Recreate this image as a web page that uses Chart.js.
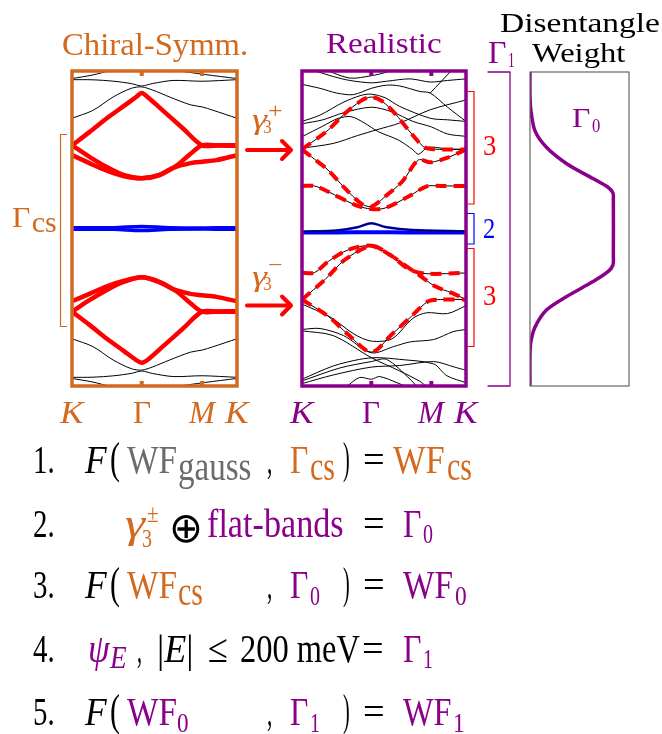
<!DOCTYPE html>
<html>
<head>
<meta charset="utf-8">
<script src="https://cdn.jsdelivr.net/npm/chart.js@4/dist/chart.umd.min.js"></script>
<style>
html, body { margin: 0; padding: 0; background: #fff; }
body { position: relative; width: 662px; height: 734px; overflow: hidden; font-family: "Liberation Serif", serif; }
canvas { position: absolute; }
svg { position: absolute; left: 0; top: 0; }
.lbl { position: absolute; left: 0; top: 0; white-space: nowrap; line-height: 1; transform-origin: 0 0; }
.bl { display: inline-block; width: 0; height: 0; }
.op { font-family: "DejaVu Sans", sans-serif; }
</style>
</head>
<body>
<canvas id="cs"></canvas>
<canvas id="re"></canvas>
<canvas id="wt"></canvas>
<svg id="deco" width="662" height="734"></svg>
<script>
/* ------------------------------- Data ------------------------------- */
// k-path K - Gamma - M - K, energies scaled to [-1, 1]
const kTicks = [0, 1, 1.866, 2.366];
const kLabels = ['K', 'Γ', 'M', 'K'];
const kItalic = [true, false, true, true];

// chiral-symmetric model
const csRedUpA = [[0,0.528],[0.25,0.612],[0.5,0.70],[0.75,0.78],[0.92,0.835],[1,0.86],[1.1,0.828],[1.3,0.75],[1.6,0.632],[1.866,0.528],[2.1,0.529],[2.366,0.528]];
const csRedUpB = [[0,0.528],[0.25,0.455],[0.5,0.39],[0.75,0.338],[1,0.319],[1.25,0.338],[1.5,0.40],[1.7,0.475],[1.866,0.528],[2.1,0.527],[2.366,0.525]];
const csRedUpC = [[0,0.466],[0.25,0.415],[0.5,0.367],[0.75,0.332],[1,0.319],[1.25,0.34],[1.45,0.385],[1.7,0.415],[1.866,0.424],[2.07,0.434],[2.366,0.466]];
const csRedDnA = [[0,-0.528],[0.25,-0.612],[0.5,-0.70],[0.75,-0.78],[0.92,-0.835],[1,-0.852],[1.1,-0.828],[1.3,-0.75],[1.6,-0.632],[1.866,-0.528],[2.1,-0.529],[2.366,-0.528]];
const csRedDnB = [[0,-0.528],[0.25,-0.455],[0.5,-0.39],[0.75,-0.338],[1,-0.31],[1.25,-0.338],[1.5,-0.40],[1.7,-0.475],[1.866,-0.528],[2.1,-0.527],[2.366,-0.525]];
const csRedDnC = [[0,-0.462],[0.25,-0.415],[0.5,-0.367],[0.75,-0.332],[1,-0.31],[1.25,-0.34],[1.45,-0.385],[1.7,-0.415],[1.866,-0.424],[2.07,-0.434],[2.366,-0.462]];
const csBlue1 = [[0,0.004],[0.6,0.005],[1,0.013],[1.4,0.005],[2.366,0.004]];
const csBlue2 = [[0,-0.004],[0.6,-0.005],[1,-0.013],[1.4,-0.005],[2.366,-0.004]];
const csBlkUp1 = [[0,0.70],[0.3,0.75],[0.59,0.835],[0.85,0.89],[1,0.899],[1.15,0.88],[1.4,0.835],[1.7,0.785],[1.866,0.772],[2.02,0.751],[2.366,0.70]];
const csBlkUp2 = [[0,0.945],[0.3,0.944],[0.6,0.935],[0.85,0.92],[1,0.905],[1.15,0.92],[1.45,0.94],[1.866,0.935],[2.366,0.945]];
const csBlkUp3 = [[0,0.952],[0.3,0.975],[0.56,1.005]];
const csBlkUp4 = [[1.47,1.005],[1.9,0.978],[2.366,0.952]];
const csBlkDn1 = [[0,-0.70],[0.3,-0.75],[0.59,-0.835],[0.85,-0.89],[1,-0.899],[1.15,-0.88],[1.4,-0.835],[1.7,-0.785],[1.866,-0.772],[2.02,-0.751],[2.366,-0.70]];
const csBlkDn2 = [[0,-0.945],[0.3,-0.944],[0.6,-0.935],[0.85,-0.92],[1,-0.905],[1.15,-0.92],[1.45,-0.94],[1.866,-0.935],[2.366,-0.945]];
const csBlkDn3 = [[0,-0.952],[0.3,-0.975],[0.56,-1.005]];
const csBlkDn4 = [[1.47,-1.005],[1.9,-0.978],[2.366,-0.952]];

// realistic model: projected (dashed) bands
const reRedA = [[0,0.502],[0.377,0.625],[0.618,0.73],[0.85,0.81],[1,0.835],[1.15,0.81],[1.343,0.73],[1.536,0.625],[1.75,0.52],[1.866,0.505],[2.1,0.502],[2.366,0.502]];
const reRedB = [[0,0.502],[0.18,0.44],[0.377,0.371],[0.618,0.256],[0.85,0.16],[1,0.139],[1.2,0.203],[1.45,0.30],[1.68,0.435],[1.85,0.42],[2.1,0.45],[2.366,0.502]];
const reRedC = [[0,0.27],[0.18,0.27],[0.377,0.234],[0.763,0.15],[1,0.123],[1.2,0.13],[1.536,0.203],[1.8,0.268],[2.0,0.27],[2.366,0.27]];
const reRedD = [[0,-0.282],[0.18,-0.28],[0.38,-0.209],[0.67,-0.135],[1,-0.11],[1.3,-0.177],[1.55,-0.261],[1.8,-0.287],[2.366,-0.282]];
const reRedE = [[0,-0.451],[0.33,-0.325],[0.62,-0.198],[1,-0.11],[1.245,-0.16],[1.44,-0.219],[1.68,-0.293],[1.92,-0.367],[2.16,-0.409],[2.366,-0.451]];
const reRedF = [[0,-0.451],[0.377,-0.557],[0.667,-0.673],[1,-0.785],[1.294,-0.673],[1.58,-0.557],[1.82,-0.462],[2.0,-0.451],[2.366,-0.451]];
const reBlue1 = [[0,-0.025],[0.5,-0.025],[1,-0.024],[1.5,-0.025],[2.366,-0.025]];
const reBlue2 = [[0,-0.02],[0.5,-0.012],[0.8,0.008],[1,0.034],[1.2,0.01],[1.6,-0.01],[2.366,-0.018]];
// realistic model: remaining bands
const reBlk1 = [[0,0.583],[0.3,0.65],[0.52,0.699],[0.71,0.71],[0.9,0.67],[1.1,0.615],[1.39,0.562],[1.6,0.50],[1.68,0.471],[1.82,0.516],[2.1,0.505],[2.366,0.503]];
const reBlk2 = [[0,0.51],[0.45,0.54],[0.8,0.59],[1.08,0.627],[1.41,0.67],[1.85,0.754],[2.366,0.816]];
const reBlk3 = [[0,0.68],[0.26,0.72],[0.59,0.80],[0.85,0.845],[1,0.853],[1.2,0.83],[1.41,0.775],[1.85,0.70],[2.1,0.69],[2.366,0.68]];
const reBlk4 = [[0,0.665],[0.3,0.69],[0.6,0.735],[1,0.77],[1.3,0.74],[1.6,0.68],[1.866,0.645],[2.1,0.60],[2.366,0.585]];
const reBlk5 = [[0,0.915],[0.26,0.89],[0.5,0.86],[0.74,0.85],[1,0.89],[1.22,0.91],[1.41,0.905],[1.7,0.87],[1.85,0.86],[2.1,0.77],[2.366,0.68]];
const reBlk6 = [[0.16,1.005],[0.45,0.965],[0.69,0.94],[1,0.925],[1.22,0.935],[1.56,0.95],[1.85,0.93],[2.1,0.94],[2.366,0.95]];
const reBlk7 = [[1.85,0.86],[2.0,0.93],[2.16,1.005]];
const reBlk8 = [[0.35,1.005],[0.69,0.955],[1,0.97],[1.2,0.99],[1.3,1.005]];
const reBlk9 = [[0,-0.48],[0.4,-0.56],[0.75,-0.67],[1,-0.715],[1.3,-0.70],[1.6,-0.57],[1.8,-0.535],[2.1,-0.54],[2.366,-0.49]];
const reBlk10 = [[0,-0.641],[0.26,-0.635],[0.6,-0.68],[1,-0.789],[1.32,-0.75],[1.56,-0.72],[1.9,-0.705],[2.18,-0.655],[2.366,-0.641]];
const reBlk11 = [[0,-0.65],[0.45,-0.68],[1,-0.82],[1.41,-0.905],[1.7,-0.97],[1.8,-1.005]];
const reBlk12 = [[0,-0.957],[0.45,-0.873],[0.83,-0.831],[1.08,-0.82],[1.41,-0.831],[1.9,-0.86],[2.09,-0.935],[2.366,-0.979]];
const reBlk13 = [[0,-0.968],[0.55,-0.885],[1,-0.845],[1.22,-0.831],[1.56,-0.957],[1.66,-1.005]];
const reBlk14 = [[0,-0.985],[0.45,-0.93],[1,-0.88],[1.41,-0.87],[1.9,-0.845],[2.2,-0.88],[2.366,-0.9]];
const reBlk15 = [[0.64,-1.005],[0.83,-0.946],[1,-0.957],[1.12,-0.94],[1.37,-0.979],[1.51,-1.005]];

// disentangle weight (x: weight 0..1, y: energy)
const wtCurve = [[0,1.01],[0,0.85],[0.01,0.76],[0.06,0.625],[0.2,0.519],[0.44,0.416],[0.756,0.321],[0.936,0.266],[0.995,0.23],[1,0.19],[1,-0.17],[0.995,-0.23],[0.936,-0.272],[0.756,-0.335],[0.44,-0.43],[0.2,-0.515],[0.06,-0.625],[0.01,-0.72],[0,-0.8],[0,-1.01]];

/* ------------------------------ Helpers ----------------------------- */
const ORANGE = '#d2691e';
const PURPLE = '#8b008b';
const RED = '#ff0000';
const BLUE = '#0000ff';

const pts = arr => arr.map(([x, y]) => ({ x, y }));

const solid = (arr, color, width, order) => ({
    data: pts(arr), borderColor: color, borderWidth: width, order,
    tension: 0.3, borderCapStyle: 'round', borderJoinStyle: 'round', fill: false
});
const dashed = (arr, color, width, order) => ({
    ...solid(arr, color, width, order), borderDash: [11, 7], borderCapStyle: 'butt'
});

const framePlugin = (color, lw, ticks) => ({
    id: 'frame',
    afterDatasetsDraw(chart) {
        const { ctx, chartArea: a, scales: { x } } = chart;
        ctx.save();
        ctx.strokeStyle = color;
        ctx.lineWidth = lw;
        ctx.strokeRect(a.left, a.top, a.right - a.left, a.bottom - a.top);
        ctx.fillStyle = color;
        ticks.forEach(v => {
            const px = x.getPixelForValue(v);
            ctx.fillRect(px - 2, a.top, 4, 5);
            ctx.fillRect(px - 2, a.bottom - 5, 4, 5);
        });
        ctx.restore();
    }
});

const makePanel = (id, frame, xMax, datasets, color, lw, ticks) => {
    const pad = 6;
    const cv = document.getElementById(id);
    cv.width = frame.w + 2 * pad;
    cv.height = frame.h + 2 * pad;
    cv.style.left = (frame.x - pad) + 'px';
    cv.style.top = (frame.y - pad) + 'px';
    const chart = new Chart(cv, {
        type: 'line',
        data: { datasets },
        options: {
            responsive: false, animation: false, devicePixelRatio: 1,
            layout: { padding: pad },
            plugins: { legend: { display: false }, tooltip: { enabled: false } },
            elements: { point: { radius: 0 } },
            scales: {
                x: { type: 'linear', min: 0, max: xMax, display: false },
                y: { type: 'linear', min: -1, max: 1, display: false }
            }
        },
        plugins: [framePlugin(color, lw, ticks)]
    });
    chart.left0 = frame.x - pad;
    return chart;
};

const label = (html, color, x0, x1, base, size, italic, cls) => {
    const el = document.createElement('div');
    el.className = 'lbl' + (cls ? ' ' + cls : '');
    el.style.fontSize = size + 'px';
    el.style.color = color;
    if (italic) el.style.fontStyle = 'italic';
    el.innerHTML = html + '<span class="bl"></span>';
    document.body.appendChild(el);
    const r = el.getBoundingClientRect();
    const b = el.querySelector('.bl').getBoundingClientRect().top - r.top;
    el.style.top = (base - b) + 'px';
    el.style.left = x0 + 'px';
    if (x1 != null) el.style.transform = 'scaleX(' + ((x1 - x0) / r.width).toFixed(3) + ')';
    return el;
};

/* ------------------------------ Charts ------------------------------ */
const csChart = makePanel('cs', { x: 72, y: 71, w: 165, h: 315 }, 2.366, [
    solid(csRedUpA, RED, 4.5, 0), solid(csRedUpB, RED, 4.5, 0), solid(csRedUpC, RED, 4.5, 0),
    solid(csRedDnA, RED, 4.5, 0), solid(csRedDnB, RED, 4.5, 0), solid(csRedDnC, RED, 4.5, 0),
    solid(csBlue1, BLUE, 3.5, 1), solid(csBlue2, BLUE, 3.5, 1),
    solid(csBlkUp1, '#000', 1, 2), solid(csBlkUp2, '#000', 1, 2), solid(csBlkUp3, '#000', 1, 2), solid(csBlkUp4, '#000', 1, 2),
    solid(csBlkDn1, '#000', 1, 2), solid(csBlkDn2, '#000', 1, 2), solid(csBlkDn3, '#000', 1, 2), solid(csBlkDn4, '#000', 1, 2)
], ORANGE, 3.5, [kTicks[1], kTicks[2]]);

const reBlack = [reRedA, reRedB, reRedC, reRedD, reRedE, reRedF, reBlue2,
    reBlk1, reBlk2, reBlk3, reBlk4, reBlk5, reBlk6, reBlk7, reBlk8,
    reBlk9, reBlk10, reBlk11, reBlk12, reBlk13, reBlk14, reBlk15];
const reChart = makePanel('re', { x: 302, y: 71, w: 164, h: 315 }, 2.366, [
    dashed(reRedA, RED, 4, 0), dashed(reRedB, RED, 4, 0), dashed(reRedC, RED, 4, 0),
    dashed(reRedD, RED, 4, 0), dashed(reRedE, RED, 4, 0), dashed(reRedF, RED, 4, 0),
    ...reBlack.map(b => solid(b, '#000', 1, 1)),
    solid(reBlue1, BLUE, 4, 2), solid(reBlue2, BLUE, 2.5, 2)
], PURPLE, 3.5, [kTicks[1], kTicks[2]]);

const wtChart = makePanel('wt', { x: 530, y: 72, w: 99, h: 314 }, 1.188, [
    solid(wtCurve, PURPLE, 3.5, 0)
], '#666', 1.2, []);

/* ------------------------------ Labels ------------------------------ */
[[csChart, ORANGE], [reChart, PURPLE]].forEach(([ch, col]) => {
    const widths = [23.5, 18, 26, 23.5];
    kTicks.forEach((v, i) => {
        const cx = ch.left0 + ch.scales.x.getPixelForValue(v);
        label(kLabels[i], col, cx - widths[i] / 2, cx + widths[i] / 2, 423.3, 32, kItalic[i]);
    });
});

label('Chiral-Symm.', ORANGE, 61.7, 248, 55, 32);
label('Realistic', PURPLE, 326, 441.7, 53.3, 30);
label('Disentangle', '#000', 500, 660, 31.7, 28);
label('Weight', '#000', 531.7, 625, 61.7, 28);
label('Γ', PURPLE, 488.3, 506.7, 63.3, 32);
label('1', PURPLE, 508.3, 515, 66.7, 20);
label('Γ', PURPLE, 571.7, 590, 126.7, 28);
label('0', PURPLE, 591.7, 600, 131.7, 19);
label('Γ', ORANGE, 11.7, 30, 226.7, 30);
label('cs', ORANGE, 31.7, 56.7, 231.7, 30);
label('γ', ORANGE, 251.7, 266.7, 129, 30, true);
label('3', ORANGE, 263.3, 272, 133.3, 18);
label('+', ORANGE, 268.3, 283, 118, 22);
label('γ', ORANGE, 251.7, 266.7, 285.5, 30, true);
label('3', ORANGE, 263.3, 272, 290, 18);
label('−', ORANGE, 268.3, 283, 272, 22);
label('3', RED, 482.7, 496, 155, 29);
label('2', BLUE, 482.7, 495, 238.3, 29);
label('3', RED, 482.7, 496, 305, 29);

// equations: [line, text, color, x0, x1, dy, size, italic, class]
const GRAY = '#6b6b6b', BLK = '#000';
const eqBase = [473.3, 536.7, 598.3, 661.7, 725];
const eqPieces = [
    [0, '1.', BLK, 33.3, 55, 0, 40], [0, 'F', BLK, 85, 106.7, 0, 40, true], [0, '(', BLK, 110, 120, 0, 44],
    [0, 'WF', GRAY, 126.7, 176.7, 0, 40], [0, 'gauss', GRAY, 178.3, 251.7, 6.7, 40],
    [0, ',', BLK, 266.7, 272, 0, 40], [0, 'Γ', ORANGE, 290, 308.3, 0, 40], [0, 'cs', ORANGE, 310, 335, 6.7, 40],
    [0, ')', BLK, 343.3, 350, 0, 44], [0, '=', BLK, 363.3, 385, 0, 40],
    [0, 'WF', ORANGE, 393.3, 445, 0, 40], [0, 'cs', ORANGE, 446.7, 471.7, 6.7, 40],

    [1, '2.', BLK, 33.3, 55, 0, 40], [1, 'γ', ORANGE, 125, 145, 0, 40, true],
    [1, '±', ORANGE, 146.7, 158.3, -15, 26], [1, '3', ORANGE, 141.7, 151.7, 10, 26],
    [1, '⊕', BLK, 169, 203, 5, 42, false, 'op'], [1, 'flat-bands', PURPLE, 206.7, 343.3, 0, 40],
    [1, '=', BLK, 363.3, 385, 0, 40], [1, 'Γ', PURPLE, 403.3, 421.7, 0, 40], [1, '0', PURPLE, 423.3, 433.3, 6.7, 27],

    [2, '3.', BLK, 33.3, 55, 0, 40], [2, 'F', BLK, 85, 106.7, 0, 40, true], [2, '(', BLK, 110, 120, 0, 44],
    [2, 'WF', ORANGE, 126.7, 176.7, 0, 40], [2, 'cs', ORANGE, 178.3, 203.3, 6.7, 40],
    [2, ',', BLK, 266.7, 272, 0, 40], [2, 'Γ', PURPLE, 290, 308.3, 0, 40], [2, '0', PURPLE, 310, 320, 6.7, 27],
    [2, ')', BLK, 343.3, 350, 0, 44], [2, '=', BLK, 363.3, 385, 0, 40],
    [2, 'WF', PURPLE, 403.3, 453.3, 0, 40], [2, '0', PURPLE, 455, 466.7, 6.7, 27],

    [3, '4.', BLK, 33.3, 55, 0, 40], [3, 'ψ', PURPLE, 88.3, 110, 0, 40, true], [3, 'E', PURPLE, 110, 126.7, 6.7, 32, true],
    [3, ',', BLK, 136.7, 141.7, 0, 40], [3, '|<i>E</i>|', BLK, 156.7, 193.3, 0, 40],
    [3, '≤', BLK, 208.3, 228.3, 0, 40], [3, '200 meV', BLK, 240, 360, 0, 40],
    [3, '=', BLK, 361.7, 383.3, 0, 40], [3, 'Γ', PURPLE, 403.3, 421.7, 0, 40], [3, '1', PURPLE, 423.3, 433.3, 6.7, 27],

    [4, '5.', BLK, 33.3, 55, 0, 40], [4, 'F', BLK, 85, 106.7, 0, 40, true], [4, '(', BLK, 110, 120, 0, 44],
    [4, 'WF', PURPLE, 126.7, 176.7, 0, 40], [4, '0', PURPLE, 176.7, 188.3, 6.7, 27],
    [4, ',', BLK, 266.7, 272, 0, 40], [4, 'Γ', PURPLE, 290, 308.3, 0, 40], [4, '1', PURPLE, 310, 320, 6.7, 27],
    [4, ')', BLK, 343.3, 350, 0, 44], [4, '=', BLK, 363.3, 385, 0, 40],
    [4, 'WF', PURPLE, 403.3, 451.7, 0, 40], [4, '1', PURPLE, 453.3, 465, 6.7, 27]
];
eqPieces.forEach(([ln, t, c, x0, x1, dy, s, it, cls]) => label(t, c, x0, x1, eqBase[ln] + dy, s, it, cls));

/* ---------------------------- Decorations --------------------------- */
const svg = document.getElementById('deco');
const path = (d, color, w) => {
    const p = document.createElementNS('http://www.w3.org/2000/svg', 'path');
    p.setAttribute('d', d);
    p.setAttribute('fill', 'none');
    p.setAttribute('stroke', color);
    p.setAttribute('stroke-width', w);
    p.setAttribute('stroke-linecap', 'round');
    p.setAttribute('stroke-linejoin', 'round');
    svg.appendChild(p);
};
path('M66.7,134.5 H60.5 V326.5 H66.7', ORANGE, 1.2);
path('M467.5,91.5 H474 V204 H467.5', RED, 1.2);
path('M467.5,213.5 H474 V244 H467.5', BLUE, 1.2);
path('M467.5,248.5 H474 V346.5 H467.5', RED, 1.2);
path('M488,72 H510 V386 H488', PURPLE, 1.3);
[150, 305.5].forEach(y => {
    path(`M247,${y} H290`, RED, 4);
    path(`M282,${y - 9} L291,${y} L282,${y + 9}`, RED, 4);
});
</script>
</body>
</html>
